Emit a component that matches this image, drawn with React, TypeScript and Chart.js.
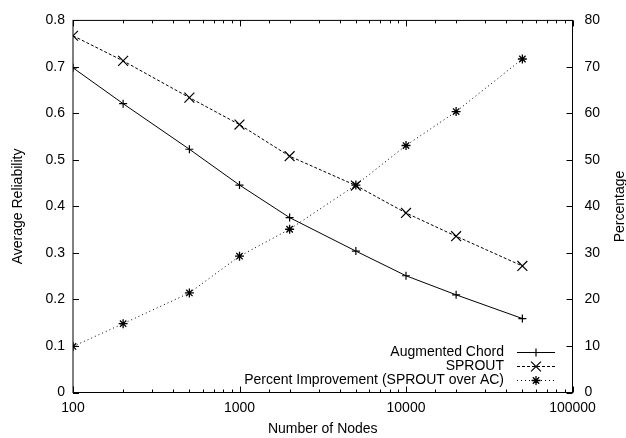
import React, { useEffect, useRef } from "react";
import { Chart, registerables } from "chart.js";
import { drawPoint } from "chart.js/helpers";

Chart.register(...registerables);

const nodes = [100, 200, 500, 1000, 2000, 5000, 10000, 20000, 50000];
const augmentedChord = [0.698, 0.621, 0.523, 0.446, 0.376, 0.304, 0.251, 0.21, 0.159];
const sprout = [0.767, 0.713, 0.634, 0.576, 0.508, 0.445, 0.386, 0.336, 0.272];
const percentImprovement = [9.9, 14.8, 21.4, 29.3, 35.1, 44.6, 53.1, 60.4, 71.7];
const xLabelTicks = [100, 1000, 10000, 100000];
const seriesLabels = ["Augmented Chord", "SPROUT", "Percent Improvement (SPROUT over AC)"];

const FONT = "Liberation Sans, Arial, Helvetica, sans-serif";

const framePlugin = {
  id: "gnuplotFrame",
  afterDatasetsDraw(chart: any) {
    const { ctx, chartArea } = chart;
    const { left, right, top, bottom } = chartArea;
    const xs = chart.scales.x;
    const ys = chart.scales.y;
    const y1 = chart.scales.y1;
    ctx.save();
    ctx.strokeStyle = "#000";
    ctx.lineWidth = 1;
    ctx.setLineDash([]);
    ctx.strokeRect(left, top, right - left, bottom - top);
    ctx.beginPath();
    for (const t of xs.ticks) {
      const px = Math.round(xs.getPixelForValue(t.value)) + 0.5;
      const lg = Math.log10(t.value);
      const len = Math.abs(lg - Math.round(lg)) < 1e-9 ? 6 : 3;
      ctx.moveTo(px, bottom);
      ctx.lineTo(px, bottom - len);
      ctx.moveTo(px, top);
      ctx.lineTo(px, top + len);
    }
    for (const t of ys.ticks) {
      const py = Math.round(ys.getPixelForValue(t.value)) + 0.5;
      ctx.moveTo(left, py);
      ctx.lineTo(left + 6, py);
    }
    for (const t of y1.ticks) {
      const py = Math.round(y1.getPixelForValue(t.value)) + 0.5;
      ctx.moveTo(right, py);
      ctx.lineTo(right - 6, py);
    }
    ctx.stroke();

    // legend (inside plot, bottom right)
    ctx.font = `14px ${FONT}`;
    ctx.fillStyle = "#000";
    ctx.textAlign = "right";
    ctx.textBaseline = "middle";
    const textRight = 504;
    const sx0 = 517;
    const sx1 = 555;
    const rowY = [352, 366, 380];
    chart.data.datasets.forEach((ds: any, i: number) => {
      const y = rowY[i];
      ctx.fillText(ds.label, textRight, y);
      ctx.beginPath();
      ctx.setLineDash(ds.borderDash || []);
      ctx.lineWidth = ds.borderWidth;
      ctx.strokeStyle = ds.borderColor;
      ctx.moveTo(sx0, y + 0.5);
      ctx.lineTo(sx1, y + 0.5);
      ctx.stroke();
      ctx.setLineDash([]);
      ctx.lineWidth = ds.pointBorderWidth;
      drawPoint(ctx, { pointStyle: ds.pointStyle, radius: ds.pointRadius, rotation: 0, borderWidth: ds.pointBorderWidth }, (sx0 + sx1) / 2, y + 0.5);
    });

    // right axis title (reads bottom to top)
    ctx.save();
    ctx.translate(620, (top + bottom) / 2);
    ctx.rotate(-Math.PI / 2);
    ctx.textAlign = "center";
    ctx.textBaseline = "middle";
    ctx.fillText("Percentage", 0, 0);
    ctx.restore();
    ctx.restore();
  },
};

export default function App() {
  const ref = useRef<HTMLCanvasElement | null>(null);
  useEffect(() => {
    if (!ref.current) return;
    Chart.defaults.font.family = FONT;
    Chart.defaults.font.size = 14;
    Chart.defaults.color = "#000";
    const mk = (vals: number[]) => nodes.map((n, i) => ({ x: n, y: vals[i] }));
    const chart = new Chart(ref.current, {
      type: "line",
      data: {
        datasets: [
          {
            label: seriesLabels[0],
            data: mk(augmentedChord),
            yAxisID: "y",
            borderColor: "#000",
            backgroundColor: "#000",
            borderWidth: 1,
            pointStyle: "cross",
            pointRadius: 4,
            pointBorderWidth: 1.2,
            pointBorderColor: "#000",
            fill: false,
            tension: 0,
          },
          {
            label: seriesLabels[1],
            data: mk(sprout),
            yAxisID: "y",
            borderColor: "#000",
            backgroundColor: "#000",
            borderWidth: 1,
            borderDash: [3, 2],
            pointStyle: "crossRot",
            pointRadius: 7,
            pointBorderWidth: 1.2,
            pointBorderColor: "#000",
            fill: false,
            tension: 0,
          },
          {
            label: seriesLabels[2],
            data: mk(percentImprovement),
            yAxisID: "y1",
            borderColor: "#000",
            backgroundColor: "#000",
            borderWidth: 1,
            borderDash: [1, 3],
            pointStyle: "star",
            pointRadius: 4.5,
            pointBorderWidth: 1.3,
            pointBorderColor: "#000",
            fill: false,
            tension: 0,
          },
        ],
      },
      options: {
        responsive: false,
        animation: false,
        events: [],
        layout: { padding: { top: 9.5, left: 0, right: 0, bottom: 0 } },
        plugins: { legend: { display: false }, tooltip: { enabled: false } },
        scales: {
          x: {
            type: "logarithmic",
            position: "bottom",
            min: 100,
            max: 100000,
            grid: { display: false, drawTicks: false },
            border: { display: false },
            ticks: {
              autoSkip: false,
              maxRotation: 0,
              padding: 7,
              color: "#000",
              callback: (v: any) => (xLabelTicks.includes(Number(v)) ? String(v) : ""),
            },
            title: { display: true, text: "Number of Nodes", padding: { top: 1.6, bottom: 0 }, color: "#000" },
            afterFit: (s: any) => {
              s.height = 45.5;
            },
          },
          y: {
            type: "linear",
            position: "left",
            min: 0,
            max: 0.8,
            grid: { display: false, drawTicks: false },
            border: { display: false },
            ticks: { stepSize: 0.1, padding: 8, color: "#000" },
            title: { display: true, text: "Average Reliability", padding: { top: 9.6, bottom: 0 }, color: "#000" },
            afterFit: (s: any) => {
              s.width = 73;
            },
          },
          y1: {
            type: "linear",
            position: "right",
            min: 0,
            max: 80,
            grid: { display: false, drawTicks: false },
            border: { display: false },
            ticks: { stepSize: 10, padding: 12, color: "#000" },
            afterFit: (s: any) => {
              s.width = 53.5;
            },
          },
        },
      },
      plugins: [framePlugin],
    } as any);
    return () => chart.destroy();
  }, []);
  return (
    <div style={{ position: "fixed", left: 0, top: 0, width: 626, height: 438, background: "#fff" }}>
      <canvas ref={ref} width={626} height={438} style={{ display: "block" }} />
    </div>
  );
}
